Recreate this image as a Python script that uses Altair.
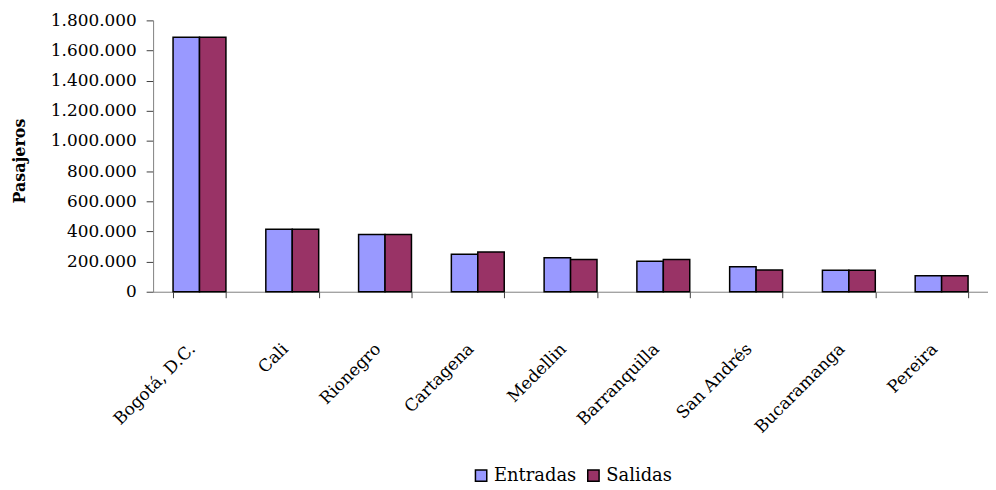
import altair as alt
import pandas as pd

ciudades = ["Bogotá, D.C.", "Cali", "Rionegro", "Cartagena", "Medellin",
            "Barranquilla", "San Andrés", "Bucaramanga", "Pereira"]
entradas = [1688000, 415000, 380000, 249000, 225000, 203000, 166000, 143000, 106000]
salidas = [1688000, 415000, 380000, 263000, 214000, 214000, 144000, 143000, 106000]
series = ["Entradas", "Salidas"]
colores = ["#9999FF", "#993366"]
y_ticks = [0, 200000, 400000, 600000, 800000, 1000000, 1200000, 1400000, 1600000, 1800000]

rows = []
for c, e, s in zip(ciudades, entradas, salidas):
    rows.append({"ciudad": c, "serie": "Entradas", "valor": e})
    rows.append({"ciudad": c, "serie": "Salidas", "valor": s})
df = pd.DataFrame(rows)

FONT = "DejaVu Serif"

chart = alt.Chart(df).mark_bar(stroke="black", strokeWidth=1.5).encode(
    x=alt.X("ciudad:N", sort=ciudades, title=None,
            scale=alt.Scale(paddingInner=0.43, paddingOuter=0.215),
            axis=alt.Axis(tickBand="extent", labelAngle=315, labelAlign="right",
                          labelBaseline="top", labelPadding=43, labelOffset=-13,
                          tickSize=6, labelFont=FONT, labelFontSize=17,
                          labelColor="#000000", domainColor="#808080",
                          tickColor="#404040", labelLimit=300)),
    xOffset=alt.XOffset("serie:N", sort=series),
    y=alt.Y("valor:Q", title="Pasajeros",
            scale=alt.Scale(domain=[0, 1800000], nice=False),
            axis=alt.Axis(values=y_ticks, grid=False, tickSize=7, labelPadding=10,
                          labelFont=FONT, labelFontSize=17, labelColor="#000000",
                          labelExpr="replace(format(datum.value, ','), regexp(',', 'g'), '.')",
                          domainColor="#808080", tickColor="#404040",
                          titleFont=FONT, titleFontSize=16, titleFontWeight="bold",
                          titleColor="#000000", titleX=-126, titleY=141)),
    fill=alt.Fill("serie:N", scale=alt.Scale(domain=series, range=colores),
                  legend=alt.Legend(title=None, orient="none", legendX=319, legendY=447,
                                    direction="horizontal", symbolType="square",
                                    symbolSize=130, symbolStrokeColor="black",
                                    symbolStrokeWidth=1.5, labelFont=FONT,
                                    labelFontSize=18, labelColor="#000000",
                                    labelOffset=4, columnPadding=8, padding=2)),
).properties(
    width=840, height=273,
    autosize="none",
    background="white",
    padding={"left": 146, "top": 11, "right": 0, "bottom": 196},
).configure_view(stroke=None)

chart.save("out.html", embed_options={"renderer": "svg", "actions": False})
